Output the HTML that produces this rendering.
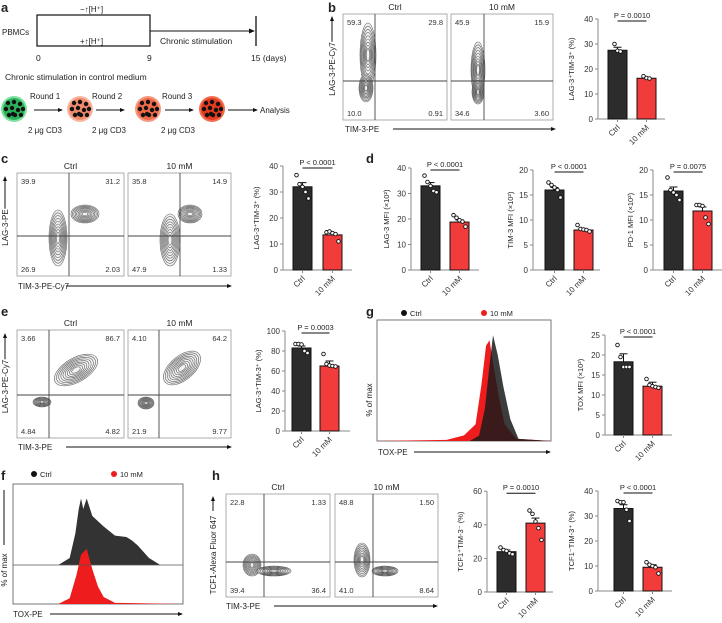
<!DOCTYPE html>
<html><head><meta charset="utf-8">
<style>
html,body{margin:0;padding:0;background:#fff;}
svg{display:block;font-family:"Liberation Sans",sans-serif;}
</style></head>
<body>
<svg id="fig" width="722" height="623" viewBox="0 0 722 623" xmlns="http://www.w3.org/2000/svg">
<g id="static" fill="#222" font-size="9">
  <text x="1" y="12" font-size="13" font-weight="bold">a</text>
  <text x="328" y="12" font-size="13" font-weight="bold">b</text>
  <text x="1" y="163" font-size="13" font-weight="bold">c</text>
  <text x="366" y="163" font-size="13" font-weight="bold">d</text>
  <text x="1" y="316" font-size="13" font-weight="bold">e</text>
  <text x="366" y="316" font-size="13" font-weight="bold">g</text>
  <text x="1" y="480" font-size="13" font-weight="bold">f</text>
  <text x="212" y="480" font-size="13" font-weight="bold">h</text>

  <g>
    <rect x="37" y="15" width="113" height="31" fill="none" stroke="#111" stroke-width="1.2"/>
    <line x1="150" y1="31" x2="253" y2="31" stroke="#111" stroke-width="1"/>
    <polygon points="255,31 249,28.5 249,33.5" fill="#111"/>
    <line x1="256" y1="16" x2="256" y2="46" stroke="#111" stroke-width="1.3"/>
    <text x="80" y="12" font-size="8">−↑[H⁺]</text>
    <text x="80" y="44" font-size="8">+↑[H⁺]</text>
    <text x="2" y="35" font-size="8">PBMCs</text>
    <text x="160" y="44" font-size="8.5">Chronic stimulation</text>
    <text x="36" y="61" font-size="8.5">0</text>
    <text x="147" y="61" font-size="8.5">9</text>
    <text x="251" y="61" font-size="8.5">15 (days)</text>
    <text x="5" y="80" font-size="8.5">Chronic stimulation in control medium</text>
  </g>
  <g font-size="8">
    <text x="30" y="99">Round 1</text><text x="92" y="99">Round 2</text><text x="162" y="99">Round 3</text>
    <text x="28" y="133">2 μg CD3</text><text x="92" y="133">2 μg CD3</text><text x="161" y="133">2 μg CD3</text>
    <line x1="34" y1="110" x2="60" y2="110" stroke="#111"/><polygon points="63,110 58,108 58,112" fill="#111"/>
    <line x1="96" y1="110" x2="122" y2="110" stroke="#111"/><polygon points="125,110 120,108 120,112" fill="#111"/>
    <line x1="165" y1="110" x2="191" y2="110" stroke="#111"/><polygon points="194,110 189,108 189,112" fill="#111"/>
    <line x1="228" y1="110" x2="255" y2="110" stroke="#111"/><polygon points="258,110 253,108 253,112" fill="#111"/>
    <text x="260" y="113">Analysis</text>
  </g>
  <g id="cells"></g>
</g>
<g id="flows"></g>
<g id="bars"></g>
<g id="hists"></g>
</svg>
<script>
const barCategories = ["Ctrl", "10 mM"];
const bVals = [27.5, 16.3];
const bDotsCtrl = [30, 27.3, 27.0];
const bDotsMM = [17.1, 16.4, 16.2];
const cVals = [32, 13.5];
const cDotsCtrl = [36.5, 33, 32, 30, 27.5];
const cDotsMM = [14.5, 14.8, 14.2, 13.8, 11];
const d1Vals = [33, 18.8];
const d1DotsCtrl = [37, 34.5, 33, 31, 30.5];
const d1DotsMM = [21.5, 20.5, 19.5, 19, 17];
const d2Vals = [16, 8];
const d2DotsCtrl = [17.5, 17, 16.5, 16, 14.5];
const d2DotsMM = [9, 8.2, 8.1, 8, 7.7];
const d3Vals = [15.8, 11.8];
const d3DotsCtrl = [18.5, 16, 15.5, 15, 14];
const d3DotsMM = [13, 13, 12.8, 10.5, 9.2];
const eVals = [83, 65];
const eDotsCtrl = [87, 87, 86.5, 80, 78];
const eDotsMM = [77, 67, 65.5, 65, 64.5];
const gVals = [18.3, 12.2];
const gDotsCtrl = [22.5, 19.5, 17, 17, 17];
const gDotsMM = [14, 12.5, 12.2, 12, 11.8];
const h1Vals = [24, 41];
const h1DotsCtrl = [26.5, 25, 24.5, 23, 22.5];
const h1DotsMM = [48.5, 46.5, 42, 38, 31];
const h2Vals = [33, 9.5];
const h2DotsCtrl = [36, 35.5, 35.5, 32.5, 28];
const h2DotsMM = [11.5, 10.5, 10, 9.5, 7];
const bTicks = [0, 10, 20, 30, 40];
const cTicks = [0, 10, 20, 30, 40];
const d1Ticks = [0, 10, 20, 30, 40];
const d2Ticks = [0, 5, 10, 15, 20];
const d3Ticks = [0, 5, 10, 15, 20];
const eTicks = [0, 20, 40, 60, 80, 100];
const gTicks = [0, 5, 10, 15, 20, 25];
const h1Ticks = [0, 20, 40, 60];
const h2Ticks = [0, 10, 20, 30, 40];

const bCtrlQ = ["59.3", "29.8", "10.0", "0.91"];
const bMMQ = ["45.9", "15.9", "34.6", "3.60"];
const cCtrlQ = ["39.9", "31.2", "26.9", "2.03"];
const cMMQ = ["35.8", "14.9", "47.9", "1.33"];
const eCtrlQ = ["3.66", "86.7", "4.84", "4.82"];
const eMMQ = ["4.10", "64.2", "21.9", "9.77"];
const hCtrlQ = ["22.8", "1.33", "39.4", "36.4"];
const hMMQ = ["48.8", "1.50", "41.0", "8.64"];

const NS = "http://www.w3.org/2000/svg";
function mk(tag, attrs, parent, text) {
  const e = document.createElementNS(NS, tag);
  for (const k in attrs) e.setAttribute(k, attrs[k]);
  if (text !== undefined) e.textContent = text;
  parent.appendChild(e);
  return e;
}

const cellsG = document.getElementById("cells");
const cellColors = [["#7fe0a0", "#2bb35a"], ["#f6b8a3", "#f08a6a"], ["#f59a80", "#ee6a48"], ["#f36d50", "#e33a20"]];
const cellX = [14, 80, 148, 212];
cellX.forEach((cx, i) => {
  const g = mk("g", {}, cellsG);
  
  
  mk("circle", { cx: cx, cy: 109, r: 13, fill: cellColors[i][0] }, g);
  mk("circle", { cx: cx, cy: 109, r: 11, fill: cellColors[i][1] }, g);
  const offs = [[-6,-6],[0,-7],[6,-5],[-8,0],[-2,-1],[4,1],[9,0],[-5,6],[1,6],[7,6],[-1,5]];
  offs.forEach(o => mk("circle", { cx: cx + o[0], cy: 109 + o[1], r: 2.2, fill: "#111" }, g));
});

const barsG = document.getElementById("bars");
function barChart(cfg) {
  const g = mk("g", {}, barsG);
  
  
  const maxT = cfg.ticks[cfg.ticks.length - 1];
  const y = v => cfg.y0 - v * cfg.ppu;
  mk("line", { x1: cfg.ax, y1: y(maxT), x2: cfg.ax, y2: cfg.y0, stroke: "#888", "stroke-width": 1 }, g);
  mk("line", { x1: cfg.ax, y1: cfg.y0, x2: cfg.end, y2: cfg.y0, stroke: "#888", "stroke-width": 1 }, g);
  cfg.ticks.forEach(t => {
    mk("line", { x1: cfg.ax - 3, y1: y(t), x2: cfg.ax, y2: y(t), stroke: "#888" }, g);
    const tl = mk("text", { x: cfg.ax - 5, y: y(t) + 3, "text-anchor": "end", "font-size": 8, fill: "#333" }, g, String(t));
    
    
  });
  const xs = [cfg.b1, cfg.b2];
  cfg.vals.forEach((v, i) => {
    const r = mk("rect", { x: xs[i], y: y(v), width: cfg.bw, height: v * cfg.ppu, fill: i ? "#f23c3c" : "#2c2c2c", stroke: "#111", "stroke-width": 1 }, g);
    
    
    const cx = xs[i] + cfg.bw / 2;
    mk("line", { x1: cx, y1: y(v), x2: cx, y2: y(v + cfg.err[i]), stroke: "#111" }, g);
    mk("line", { x1: cx - 4, y1: y(v + cfg.err[i]), x2: cx + 4, y2: y(v + cfg.err[i]), stroke: "#111" }, g);
    const dots = i ? cfg.dm : cfg.dc;
    dots.forEach((d, k) => {
      const dx = cx + (k - (dots.length - 1) / 2) * 3;
      const c = mk("circle", { cx: dx, cy: y(d), r: 1.8, fill: "#fff", stroke: "#111", "stroke-width": 0.9 }, g);
      
      
    });
    mk("line", { x1: cx, y1: cfg.y0, x2: cx, y2: cfg.y0 + 3, stroke: "#888" }, g);
    const lab = mk("text", { x: cx + 3, y: cfg.y0 + 9, "text-anchor": "end", "font-size": 8, fill: "#333", transform: `rotate(-45 ${cx + 3} ${cfg.y0 + 9})` }, g, barCategories[i]);
    
    
  });
  const pc = (cfg.b1 + cfg.b2 + cfg.bw) / 2;
  const py = y(maxT) + 2;
  mk("line", { x1: cfg.b1 + cfg.bw / 2, y1: py, x2: cfg.b2 + cfg.bw / 2, y2: py, stroke: "#111" }, g);
  const pt = mk("text", { x: pc, y: py - 3, "text-anchor": "middle", "font-size": 7.5, fill: "#222" }, g, cfg.p);
  
  
  const ymid = (y(maxT) + cfg.y0) / 2;
  const yl = mk("text", { x: cfg.ax - cfg.lo, y: ymid, "text-anchor": "middle", "font-size": 7.5, fill: "#222", transform: `rotate(-90 ${cfg.ax - cfg.lo} ${ymid})` }, g, cfg.yl);
  
  
}
barChart({ name: "bar-chart-b", ax: 598, end: 665, b1: 608, b2: 637, bw: 19, y0: 119, ppu: 2.5, ticks: bTicks, vals: bVals, dc: bDotsCtrl, dm: bDotsMM, err: [1.2, 0.4], p: "P = 0.0010", yl: "LAG-3⁺TIM-3⁺ (%)", lo: 24 });
barChart({ name: "bar-chart-c", ax: 283, end: 352, b1: 293, b2: 323, bw: 19, y0: 270, ppu: 2.6, ticks: cTicks, vals: cVals, dc: cDotsCtrl, dm: cDotsMM, err: [1.6, 0.8], p: "P < 0.0001", yl: "LAG-3⁺TIM-3⁺ (%)", lo: 24 });
barChart({ name: "bar-chart-d-lag3", ax: 411, end: 479, b1: 421, b2: 450, bw: 19, y0: 270, ppu: 2.55, ticks: d1Ticks, vals: d1Vals, dc: d1DotsCtrl, dm: d1DotsMM, err: [1.3, 0.8], p: "P < 0.0001", yl: "LAG-3 MFI (×10²)", lo: 22 });
barChart({ name: "bar-chart-d-tim3", ax: 533, end: 600, b1: 545, b2: 574, bw: 19, y0: 270, ppu: 5, ticks: d2Ticks, vals: d2Vals, dc: d2DotsCtrl, dm: d2DotsMM, err: [0.5, 0.2], p: "P < 0.0001", yl: "TIM-3 MFI (×10²)", lo: 20 });
barChart({ name: "bar-chart-d-pd1", ax: 653, end: 722, b1: 664, b2: 693, bw: 19, y0: 270, ppu: 5, ticks: d3Ticks, vals: d3Vals, dc: d3DotsCtrl, dm: d3DotsMM, err: [0.8, 0.8], p: "P = 0.0075", yl: "PD-1 MFI (×10²)", lo: 20 });
barChart({ name: "bar-chart-e", ax: 285, end: 350, b1: 292, b2: 320, bw: 19, y0: 431, ppu: 1, ticks: eTicks, vals: eVals, dc: eDotsCtrl, dm: eDotsMM, err: [2, 5], p: "P = 0.0003", yl: "LAG-3⁺TIM-3⁺ (%)", lo: 24 });
barChart({ name: "bar-chart-g", ax: 605, end: 672, b1: 614, b2: 643, bw: 19, y0: 435, ppu: 4, ticks: gTicks, vals: gVals, dc: gDotsCtrl, dm: gDotsMM, err: [2, 1], p: "P < 0.0001", yl: "TOX MFI (×10²)", lo: 22 });
barChart({ name: "bar-chart-h-tcf1pos", ax: 487, end: 553, b1: 497, b2: 526, bw: 19, y0: 592, ppu: 1.68, ticks: h1Ticks, vals: h1Vals, dc: h1DotsCtrl, dm: h1DotsMM, err: [1, 3], p: "P = 0.0010", yl: "TCF1⁺TIM-3⁻ (%)", lo: 24 });
barChart({ name: "bar-chart-h-tcf1neg", ax: 598, end: 672, b1: 614, b2: 643, bw: 19, y0: 591, ppu: 2.5, ticks: h2Ticks, vals: h2Vals, dc: h2DotsCtrl, dm: h2DotsMM, err: [1.5, 1], p: "P < 0.0001", yl: "TCF1⁻TIM-3⁺ (%)", lo: 24 });

const flowsG = document.getElementById("flows");
function flowPlot(name, x, yT, w, h, gx, gy, q, title, blobs) {
  const g = mk("g", {}, flowsG);
  
  
  mk("rect", { x: x, y: yT, width: w, height: h, fill: "#fff", stroke: "#999", "stroke-width": 0.8 }, g);
  blobs.forEach(b => {
    for (let k = 0; k < 9; k++) {
      const s = 1 - k * 0.1;
      mk("ellipse", { cx: b[0], cy: b[1], rx: b[2] * s, ry: b[3] * s, fill: k === 0 ? "#f0f0f0" : "none", stroke: "#444", "stroke-width": 0.6, opacity: 0.85, transform: `rotate(${b[4] || 0} ${b[0]} ${b[1]})` }, g);
    }
  });
  mk("line", { x1: gx, y1: yT, x2: gx, y2: yT + h, stroke: "#444", "stroke-width": 0.9 }, g);
  mk("line", { x1: x, y1: gy, x2: x + w, y2: gy, stroke: "#444", "stroke-width": 0.9 }, g);
  const fs = 7.5;
  mk("text", { x: x + 4, y: yT + 11, "font-size": fs, fill: "#333" }, g, q[0]);
  mk("text", { x: x + w - 4, y: yT + 11, "font-size": fs, fill: "#333", "text-anchor": "end" }, g, q[1]);
  mk("text", { x: x + 4, y: yT + h - 4, "font-size": fs, fill: "#333" }, g, q[2]);
  mk("text", { x: x + w - 4, y: yT + h - 4, "font-size": fs, fill: "#333", "text-anchor": "end" }, g, q[3]);
  if (title) mk("text", { x: x + w / 2, y: yT - 4, "font-size": 8.5, fill: "#222", "text-anchor": "middle" }, g, title);
}
function axisLabels(name, x0, y0, yTop, xEnd, xl, yl, yMid) {
  const g = mk("g", {}, flowsG);
  
  
  if (yMid === undefined) yMid = (yTop + y0) / 2;
  const t = mk("text", { x: x0, y: yMid, "font-size": 8, fill: "#222", "text-anchor": "middle", transform: `rotate(-90 ${x0} ${yMid})` }, g, yl);
  const half = yl.length * 2.1;
  mk("line", { x1: x0 - 3, y1: yMid - half - 2, x2: x0 - 3, y2: yTop + 4, stroke: "#111" }, g);
  mk("polygon", { points: `${x0 - 3},${yTop} ${x0 - 5},${yTop + 5} ${x0 - 1},${yTop + 5}`, fill: "#111" }, g);
  mk("text", { x: x0 + 10, y: y0 + 10, "font-size": 8, fill: "#222" }, g, xl);
  mk("line", { x1: x0 + 58, y1: y0 + 7, x2: xEnd - 4, y2: y0 + 7, stroke: "#111" }, g);
  mk("polygon", { points: `${xEnd},${y0 + 7} ${xEnd - 5},${y0 + 5} ${xEnd - 5},${y0 + 9}`, fill: "#111" }, g);
}
flowPlot("flow-b-ctrl", 343, 14, 104, 106, 375, 81, bCtrlQ, "Ctrl", [[368, 55, 8, 32], [366, 88, 7, 14]]);
flowPlot("flow-b-10mm", 451, 14, 102, 106, 484, 81, bMMQ, "10 mM", [[478, 70, 7, 28], [478, 92, 6, 12]]);
axisLabels("flow-b-axes", 335, 122, 16, 556, "TIM-3-PE", "LAG-3-PE-Cy7");
flowPlot("flow-c-ctrl", 17, 173, 107, 103, 69, 236, cCtrlQ, "Ctrl", [[58, 238, 9, 28], [85, 214, 14, 9]]);
flowPlot("flow-c-10mm", 128, 173, 103, 103, 180, 236, cMMQ, "10 mM", [[170, 240, 10, 26], [190, 214, 12, 9]]);
axisLabels("flow-c-axes", 8, 279, 176, 232, "TIM-3-PE-Cy7", "LAG-3-PE");
flowPlot("flow-e-ctrl", 17, 330, 107, 108, 49, 395, eCtrlQ, "Ctrl", [[76, 370, 24, 12, -30], [42, 402, 9, 5]]);
flowPlot("flow-e-10mm", 128, 330, 103, 108, 159, 395, eMMQ, "10 mM", [[182, 368, 22, 12, -40], [146, 403, 8, 6]]);
axisLabels("flow-e-axes", 8, 440, 333, 232, "TIM-3-PE", "LAG-3-PE-Cy7");
flowPlot("flow-h-ctrl", 226, 494, 104, 103, 264, 562, hCtrlQ, "Ctrl", [[252, 565, 9, 11], [274, 571, 17, 5]]);
flowPlot("flow-h-10mm", 335, 494, 103, 103, 373, 562, hMMQ, "10 mM", [[362, 560, 8, 17], [385, 571, 13, 5]]);
axisLabels("flow-h-axes", 216, 599, 496, 438, "TIM-3-PE", "TCF1-Alexa Fluor 647", 555);

const histG = document.getElementById("hists");
const fCtrlX = [0, 0.4, 0.5, 0.55, 0.58, 0.6, 0.62, 0.65, 0.7, 0.8, 0.9, 1.0, 1.05, 1.1, 1.2, 1.3, 1.5];
const fCtrlY = [0, 0, 0.1, 0.45, 0.8, 0.95, 0.8, 0.95, 0.7, 0.55, 0.42, 0.4, 0.35, 0.28, 0.1, 0, 0];
const fMMX = [0, 0.4, 0.5, 0.56, 0.6, 0.65, 0.7, 0.75, 0.8, 0.9, 1.5];
const fMMY = [0, 0, 0.1, 0.5, 0.85, 0.95, 0.6, 0.3, 0.12, 0.02, 0];
const gCtrlX = [0, 0.8, 0.88, 0.93, 0.97, 1.0, 1.04, 1.09, 1.15, 1.22, 1.5];
const gCtrlY = [0, 0, 0.05, 0.3, 0.7, 0.98, 0.8, 0.5, 0.2, 0.02, 0];
const gMMX = [0, 0.6, 0.75, 0.85, 0.9, 0.94, 0.97, 1.0, 1.05, 1.1, 1.2, 1.5];
const gMMY = [0, 0.01, 0.05, 0.15, 0.5, 0.85, 0.9, 0.7, 0.4, 0.15, 0.02, 0];
function area(g, xsA, ysA, x0, w, base, hgt, fill, op, name) {
  let d = `M${x0 + xsA[0] / 1.5 * w},${base}`;
  xsA.forEach((v, i) => { d += ` L${x0 + v / 1.5 * w},${base - ysA[i] * hgt}`; });
  d += ` L${x0 + w},${base} Z`;
  const p = mk("path", { d: d, fill: fill, opacity: op }, g);
  
  
}
function legend(g, x, y) {
  mk("circle", { cx: x, cy: y, r: 3, fill: "#111" }, g);
  mk("text", { x: x + 6, y: y + 3, "font-size": 7.5, fill: "#222" }, g, "Ctrl");
  mk("circle", { cx: x + 80, cy: y, r: 3, fill: "#ee1c1c" }, g);
  mk("text", { x: x + 86, y: y + 3, "font-size": 7.5, fill: "#222" }, g, "10 mM");
}
{
  const g = mk("g", {}, histG);
  
  
  legend(g, 34, 474);
  mk("rect", { x: 13, y: 484, width: 170, height: 120, fill: "#fff", stroke: "#555", "stroke-width": 0.8 }, g);
  area(g, fCtrlX, fCtrlY, 13, 170, 565, 70, "#333", 1, "histogram-ctrl");
  area(g, fMMX, fMMY, 13, 170, 604, 58, "#ee1c1c", 1, "histogram-10mm");
  mk("line", { x1: 13, y1: 565, x2: 183, y2: 565, stroke: "#555", "stroke-width": 0.8 }, g);
  mk("text", { x: 7, y: 570, "font-size": 8, fill: "#222", transform: "rotate(-90 7 570)", "text-anchor": "middle" }, g, "% of max");
  mk("text", { x: 13, y: 617, "font-size": 8, fill: "#222" }, g, "TOX-PE");
  mk("line", { x1: 50, y1: 614, x2: 178, y2: 614, stroke: "#111" }, g);
  mk("polygon", { points: "183,614 178,612 178,616", fill: "#111" }, g);
  mk("line", { x1: 4, y1: 490, x2: 4, y2: 545, stroke: "#111" }, g);
}
{
  const g = mk("g", {}, histG);
  
  
  legend(g, 404, 313);
  mk("rect", { x: 377, y: 320, width: 174, height: 121, fill: "#fff", stroke: "#555", "stroke-width": 0.8 }, g);
  area(g, gMMX, gMMY, 377, 174, 441, 112, "#ee1c1c", 1, "histogram-10mm");
  area(g, gCtrlX, gCtrlY, 377, 174, 441, 108, "#1a1a1a", 0.85, "histogram-ctrl");
  mk("text", { x: 372, y: 400, "font-size": 8, fill: "#222", transform: "rotate(-90 372 400)", "text-anchor": "middle" }, g, "% of max");
  mk("text", { x: 378, y: 455, "font-size": 8, fill: "#222" }, g, "TOX-PE");
  mk("line", { x1: 414, y1: 452, x2: 546, y2: 452, stroke: "#111" }, g);
  mk("polygon", { points: "551,452 546,450 546,454", fill: "#111" }, g);
}
</script>
</body></html>
